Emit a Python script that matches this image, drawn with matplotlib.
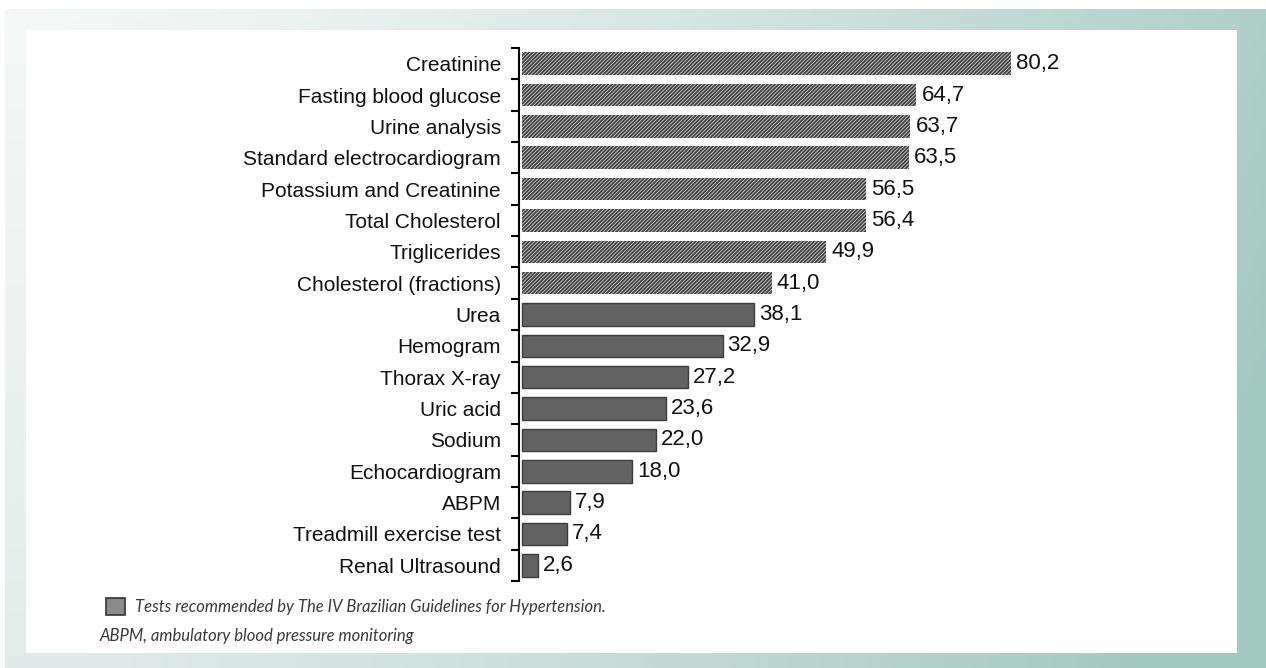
import matplotlib.pyplot as plt
import numpy as np
from matplotlib.patches import Rectangle
from matplotlib.colors import to_rgb

############### DATA ###############
tests = ['Creatinine', 'Fasting blood glucose', 'Urine analysis',
         'Standard electrocardiogram', 'Potassium and Creatinine',
         'Total Cholesterol', 'Triglicerides', 'Cholesterol (fractions)',
         'Urea', 'Hemogram', 'Thorax X-ray', 'Uric acid', 'Sodium',
         'Echocardiogram', 'ABPM', 'Treadmill exercise test', 'Renal Ultrasound']
percent = [80.2, 64.7, 63.7, 63.5, 56.5, 56.4, 49.9, 41.0,
           38.1, 32.9, 27.2, 23.6, 22.0, 18.0, 7.9, 7.4, 2.6]
recommended = [True] * 8 + [False] * 9

W, H = 1266, 668
plt.rcParams['hatch.linewidth'] = 1.3
fig = plt.figure(figsize=(W / 100, H / 100), dpi=100)
fig.patch.set_facecolor('white')

############### BACKGROUND FRAME ###############
bg = fig.add_axes([0, 0, 1, 1])
bg.set_xlim(0, W)
bg.set_ylim(H, 0)
bg.axis('off')
light = np.array(to_rgb('#f5f8f7'))
teal = np.array(to_rgb('#a3c8c0'))
gx = np.linspace(0, 1, 200)
gy = np.linspace(0, 1, 60)
GX, GY = np.meshgrid(gx, gy)
t = np.clip(0.85 * GX ** 1.3 + 0.25 * GY, 0, 1)
img = light[None, None, :] * (1 - t[..., None]) + teal[None, None, :] * t[..., None]
bg.imshow(img, extent=(5, W, H, 9), aspect='auto', zorder=0)
bg.add_patch(Rectangle((26, 30), 1237 - 26, 653 - 30, facecolor='white',
                       edgecolor='none', zorder=1))

# footnote
bg.add_patch(Rectangle((106, 598), 19, 17, facecolor='#8a8a8a',
                       edgecolor='#333333', lw=1.2, zorder=2))
bg.text(135, 607, 'Tests recommended by The IV Brazilian Guidelines for Hypertension.',
        fontsize=12, family='Lato', style='italic', color='#3a3a3a',
        va='center', ha='left', zorder=3)
bg.text(100, 636, 'ABPM, ambulatory blood pressure monitoring',
        fontsize=12, family='Lato', style='italic', color='#3a3a3a',
        va='center', ha='left', zorder=3)

############### BAR CHART ###############
ax_left, ax_right = 519, 1150
ax_top, ax_bot = 48, 581
ax = fig.add_axes([ax_left / W, 1 - ax_bot / H, (ax_right - ax_left) / W,
                   (ax_bot - ax_top) / H])
ax.patch.set_alpha(0)

px_per_unit = (1011 - 522) / 80.2
y = np.arange(len(tests))
for i, (v, rec) in enumerate(zip(percent, recommended)):
    if rec:
        ax.barh(i, v, height=0.72, color='#d8d8d8', edgecolor='#3f3f3f',
                hatch='/' * 9, linewidth=0)
    else:
        ax.barh(i, v, height=0.72, color='#626262', edgecolor='#3c3c3c',
                linewidth=1)
    ax.text(v + 5 / px_per_unit, i, f'{v:.1f}'.replace('.', ','),
            va='center', ha='left', fontsize=16, family='Liberation Sans',
            color='#111111')

ax.set_xlim(-3 / px_per_unit, (ax_right - 522) / px_per_unit)
ax.set_ylim(len(tests) - 0.5, -0.5)
ax.set_yticks(y)
ax.set_yticklabels(tests, fontsize=15, family='Liberation Sans', color='#111111')
ax.set_yticks(np.arange(-0.5, len(tests), 1), minor=True)
ax.tick_params(axis='y', which='major', length=0, pad=13)
ax.tick_params(axis='y', which='minor', length=6, width=1.5, direction='out')
ax.xaxis.set_visible(False)
for s in ['top', 'right', 'bottom']:
    ax.spines[s].set_visible(False)
ax.spines['left'].set_linewidth(1.5)

plt.savefig('out.png', dpi=100)
